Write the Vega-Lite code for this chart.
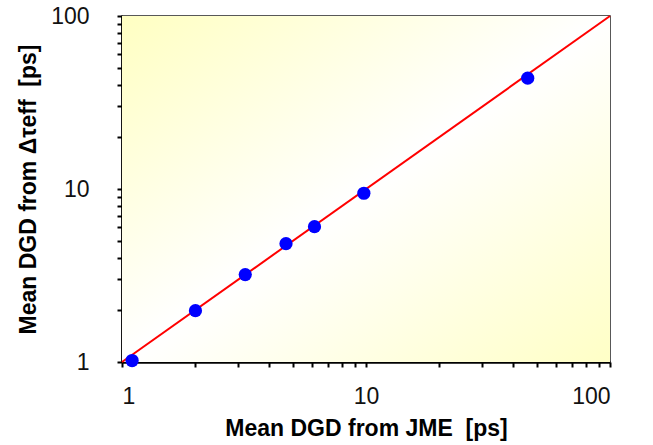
{
  "$schema": "https://vega.github.io/schema/vega-lite/v6.json",
  "autosize": "none",
  "width": 488,
  "height": 346,
  "padding": {"left": 122, "top": 16, "right": 43, "bottom": 83},
  "background": "white",
  "config": {
    "font": "Liberation Sans",
    "view": {"stroke": "#222222", "strokeWidth": 1.5},
    "axis": {
      "domainColor": "black",
      "domainWidth": 2.5,
      "tickColor": "black",
      "tickWidth": 2,
      "tickSize": 5,
      "grid": false,
      "labelFont": "Liberation Sans",
      "labelFontSize": 23,
      "labelColor": "#111111",
      "titleFont": "Liberation Sans",
      "titleFontSize": 23,
      "titleFontWeight": "bold",
      "titleColor": "black"
    }
  },
  "datasets": {
    "points": [
      {"jme": 1.1, "tau": 1.02},
      {"jme": 2.0, "tau": 1.98},
      {"jme": 3.2, "tau": 3.2},
      {"jme": 4.7, "tau": 4.83},
      {"jme": 6.15, "tau": 6.06},
      {"jme": 9.8, "tau": 9.45},
      {"jme": 46, "tau": 43.7}
    ],
    "line": [
      {"jme": 1, "tau": 1},
      {"jme": 100, "tau": 100}
    ],
    "bg": [
      {"x0": 1, "x1": 100, "y0": 1, "y1": 100}
    ]
  },
  "layer": [
    {
      "data": {"name": "bg"},
      "mark": {
        "type": "rect",
        "fill": {
          "gradient": "linear",
          "x1": 0, "y1": 0, "x2": 1, "y2": 1,
          "stops": [
            {"offset": 0, "color": "#ffffc2"},
            {"offset": 0.5, "color": "#ffffff"},
            {"offset": 1, "color": "#ffffc6"}
          ]
        }
      },
      "encoding": {
        "x": {"field": "x0", "type": "quantitative", "scale": {"type": "log", "domain": [1, 100]},
          "axis": {
            "values": [1,2,3,4,5,6,7,8,9,10,20,30,40,50,60,70,80,90,100],
            "labelExpr": "indexof([1,10,100], datum.value) >= 0 ? format(datum.value, 'd') : ''",
            "labelPadding": 18,
            "title": "Mean DGD from JME \u00a0[ps]",
            "titlePadding": 9
          }
        },
        "x2": {"field": "x1"},
        "y": {"field": "y0", "type": "quantitative", "scale": {"type": "log", "domain": [1, 100]},
          "axis": {
            "values": [1,2,3,4,5,6,7,8,9,10,20,30,40,50,60,70,80,90,100],
            "labelExpr": "indexof([1,10,100], datum.value) >= 0 ? format(datum.value, 'd') : ''",
            "labelPadding": 28,
            "title": "Mean DGD from Δτeff \u00a0[ps]",
            "titlePadding": 10
          }
        },
        "y2": {"field": "y1"}
      }
    },
    {
      "data": {"name": "line"},
      "mark": {"type": "line", "color": "#ff0000", "strokeWidth": 2},
      "encoding": {
        "x": {"field": "jme", "type": "quantitative"},
        "y": {"field": "tau", "type": "quantitative"}
      }
    },
    {
      "data": {"name": "points"},
      "mark": {"type": "circle", "color": "#0000ff", "opacity": 1, "size": 175},
      "encoding": {
        "x": {"field": "jme", "type": "quantitative"},
        "y": {"field": "tau", "type": "quantitative"}
      }
    }
  ]
}
